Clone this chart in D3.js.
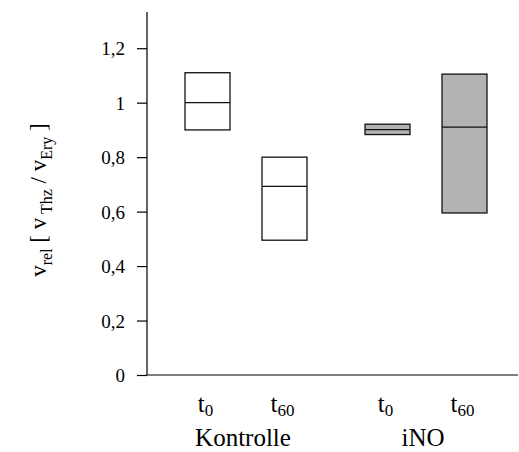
<!DOCTYPE html>
<html>
<head>
<meta charset="utf-8">
<script src="https://cdn.jsdelivr.net/npm/d3@7"></script>
<style>
  body { margin: 0; background: #fff; }
  svg text { font-family: "Liberation Serif", "Times New Roman", "DejaVu Serif", serif; fill: #000; }
</style>
</head>
<body>
<svg id="chart" width="519" height="452"></svg>
<script>
var groups = ["Kontrolle", "iNO"]
var times = ["0", "60"]
// one box per group x time, in order
var boxGroup = ["Kontrolle", "Kontrolle", "iNO", "iNO"]
var boxTime = ["0", "60", "0", "60"]
var lower = [0.90, 0.495, 0.883, 0.595]
var median = [1.0, 0.693, 0.901, 0.91]
var upper = [1.11, 0.80, 0.921, 1.105]
var fills = { "Kontrolle": "#ffffff", "iNO": "#b3b3b3" }
var yTicks = [0, 0.2, 0.4, 0.6, 0.8, 1, 1.2]

var svg = d3.select("#chart")
var x0 = 147, yBase = 375

var yScale = d3.scaleLinear().domain([0, 1.333]).range([yBase, 12])
var xGroup = d3.scaleBand().domain(groups).range([156, 516])
var xTime = d3.scalePoint().domain(times).range([0, xGroup.bandwidth()]).padding(0.669)
var boxW = 45

var data = []
for (var i = 0; i < lower.length; i++) {
  data.push({ group: boxGroup[i], time: boxTime[i], lo: lower[i], med: median[i], hi: upper[i] })
}

// y axis
var yAxis = d3.axisLeft(yScale).tickValues(yTicks).tickSizeOuter(0).tickSizeInner(10).tickPadding(12)
  .tickFormat(function (d) { return d3.format("")(d).replace(".", ",") })
var gy = svg.append("g").attr("transform", "translate(" + x0 + ",0)").call(yAxis)
  .attr("font-family", null).attr("font-size", null)
gy.select(".domain").remove()
gy.selectAll(".tick line").attr("stroke", "#000").attr("stroke-width", 1.2)
gy.selectAll(".tick text").style("font-size", "19px").attr("fill", "#000").attr("dy", "0.35em")
svg.append("line").attr("x1", x0).attr("x2", x0).attr("y1", 12).attr("y2", yBase)
  .attr("stroke", "#000").attr("stroke-width", 1.2)
svg.append("line").attr("x1", x0).attr("x2", 518).attr("y1", yBase).attr("y2", yBase)
  .attr("stroke", "#000").attr("stroke-width", 1.2)

// boxes
var box = svg.append("g").selectAll("g").data(data).enter().append("g")
  .attr("transform", function (d) { return "translate(" + (xGroup(d.group) + xTime(d.time)) + ",0)" })
box.append("rect")
  .attr("x", -boxW / 2).attr("width", boxW)
  .attr("y", function (d) { return yScale(d.hi) })
  .attr("height", function (d) { return yScale(d.lo) - yScale(d.hi) })
  .attr("fill", function (d) { return fills[d.group] })
  .attr("stroke", "#111").attr("stroke-width", 1.3)
box.append("line")
  .attr("x1", -boxW / 2).attr("x2", boxW / 2)
  .attr("y1", function (d) { return yScale(d.med) }).attr("y2", function (d) { return yScale(d.med) })
  .attr("stroke", "#111").attr("stroke-width", 1.2)

// time labels
var tl = box.append("text").attr("x", -2).attr("y", 412).attr("text-anchor", "middle").style("font-size", "25px")
tl.append("tspan").text("t")
tl.append("tspan").attr("dy", 4).style("font-size", "17px").text(function (d) { return d.time })

// group labels
svg.append("g").selectAll("text").data(groups).enter().append("text")
  .attr("x", function (d) { return xGroup(d) + xGroup.bandwidth() / 2 - 3 })
  .attr("y", 446).attr("text-anchor", "middle").style("font-size", "25px")
  .text(function (d) { return d })

// y label
var yl = svg.append("text").attr("transform", "translate(46,200) rotate(-90)")
  .attr("text-anchor", "middle").style("font-size", "23px")
yl.append("tspan").text("v")
yl.append("tspan").attr("dy", 6).style("font-size", "16px").text("rel")
yl.append("tspan").attr("dy", -6).text(" [ v")
yl.append("tspan").attr("dy", 6).style("font-size", "16px").text(" Thz")
yl.append("tspan").attr("dy", -6).text(" / v")
yl.append("tspan").attr("dy", 6).style("font-size", "16px").text("Ery")
yl.append("tspan").attr("dy", -6).text(" ]")
</script>
</body>
</html>
